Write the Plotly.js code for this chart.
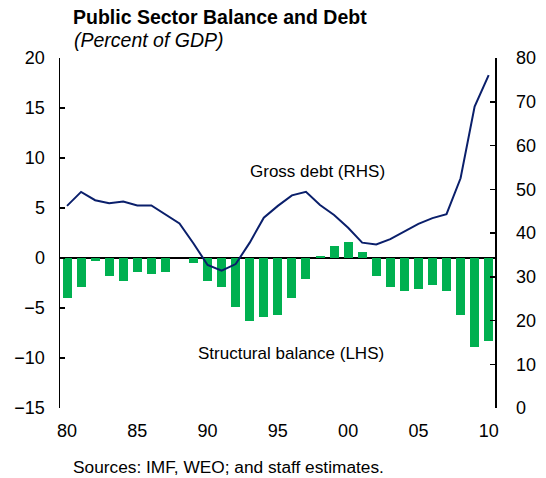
<!DOCTYPE html>
<html>
<head>
<meta charset="utf-8">
<script src="https://cdn.plot.ly/plotly-3.0.1.min.js"></script>
<style>
  html, body { margin: 0; padding: 0; background: #fff; }
  #chart { width: 546px; height: 478px; }
</style>
</head>
<body>
<div id="chart"></div>
<script>
// Years 1980-2010
const years = [1980,1981,1982,1983,1984,1985,1986,1987,1988,1989,1990,1991,1992,1993,1994,1995,1996,1997,1998,1999,2000,2001,2002,2003,2004,2005,2006,2007,2008,2009,2010];
// Structural balance, percent of GDP (LHS)
const structuralBalance = [-4.0,-2.9,-0.3,-1.8,-2.3,-1.4,-1.6,-1.4,0.0,-0.5,-2.3,-2.9,-4.9,-6.3,-5.9,-5.7,-4.0,-2.1,0.2,1.2,1.6,0.6,-1.8,-2.9,-3.3,-3.1,-2.7,-3.3,-5.7,-8.9,-8.3];
// Gross debt, percent of GDP (RHS)
const grossDebt = [46.2,49.4,47.5,46.8,47.2,46.3,46.3,44.3,42.2,37.6,32.7,31.4,32.9,37.8,43.5,46.2,48.6,49.4,46.4,44.1,41.2,37.8,37.4,38.6,40.3,42.1,43.4,44.3,52.5,68.9,76.1];
// Tick labels
const xTickVals = [1980,1985,1990,1995,2000,2005,2010];
const xTickText = ["80","85","90","95","00","05","10"];

const FONT = 'Arial, "Liberation Sans", sans-serif';

const traces = [
  {
    type: 'bar',
    x: years,
    y: structuralBalance,
    width: 0.64,
    marker: { color: '#00B050', line: { width: 0 } },
    yaxis: 'y',
    hoverinfo: 'skip',
    showlegend: false
  },
  {
    type: 'scatter',
    mode: 'lines',
    x: years,
    y: grossDebt,
    line: { color: '#0A1F6B', width: 2 },
    yaxis: 'y2',
    hoverinfo: 'skip',
    showlegend: false
  }
];

const layout = {
  width: 546,
  height: 478,
  margin: { l: 60, r: 51, t: 58, b: 70, pad: 0 },
  paper_bgcolor: '#ffffff',
  plot_bgcolor: '#ffffff',
  font: { family: FONT, color: '#000000', size: 18 },
  showlegend: false,
  bargap: 0,
  xaxis: {
    range: [1979.5, 2010.45],
    tickvals: xTickVals,
    ticktext: xTickText,
    ticks: '',
    showline: false,
    showgrid: false,
    zeroline: false,
    tickfont: { family: FONT, size: 18, color: '#000' },
    ticklabelstandoff: 10
  },
  yaxis: {
    range: [-15, 20],
    dtick: 5,
    tick0: 0,
    ticks: 'inside',
    ticklen: 5,
    tickwidth: 1.5,
    tickcolor: '#000',
    showline: true,
    linecolor: '#000',
    linewidth: 1.5,
    showgrid: false,
    zeroline: true,
    zerolinecolor: '#000',
    zerolinewidth: 2,
    tickfont: { family: FONT, size: 18, color: '#000' },
    ticklabelstandoff: 10
  },
  yaxis2: {
    overlaying: 'y',
    side: 'right',
    range: [0, 80],
    dtick: 10,
    tick0: 0,
    ticks: 'inside',
    ticklen: 5,
    tickwidth: 1.5,
    tickcolor: '#000',
    showline: true,
    linecolor: '#000',
    linewidth: 1.5,
    showgrid: false,
    zeroline: false,
    tickfont: { family: FONT, size: 18, color: '#000' },
    ticklabelstandoff: 16
  },
  annotations: [
    {
      text: '<b>Public Sector Balance and Debt</b>',
      xref: 'paper', yref: 'paper',
      x: 0.025, y: 1.117, xanchor: 'left', yanchor: 'middle',
      showarrow: false,
      font: { family: FONT, size: 19.5, color: '#000' }
    },
    {
      text: '<i>(Percent of GDP)</i>',
      xref: 'paper', yref: 'paper',
      x: 0.027, y: 1.051, xanchor: 'left', yanchor: 'middle',
      showarrow: false,
      font: { family: FONT, size: 19.5, color: '#000' }
    },
    {
      text: 'Gross debt (RHS)',
      xref: 'paper', yref: 'paper',
      x: 0.591, y: 0.677, xanchor: 'center', yanchor: 'middle',
      showarrow: false,
      font: { family: FONT, size: 17, color: '#000' }
    },
    {
      text: 'Structural balance (LHS)',
      xref: 'paper', yref: 'paper',
      x: 0.531, y: 0.157, xanchor: 'center', yanchor: 'middle',
      showarrow: false,
      font: { family: FONT, size: 17, color: '#000' }
    },
    {
      text: 'Sources: IMF, WEO; and staff estimates.',
      xref: 'paper', yref: 'paper',
      x: 0.025, y: -0.169, xanchor: 'left', yanchor: 'middle',
      showarrow: false,
      font: { family: FONT, size: 17.3, color: '#000' }
    }
  ]
};

Plotly.newPlot('chart', traces, layout, { displayModeBar: false, staticPlot: true });
</script>
</body>
</html>
